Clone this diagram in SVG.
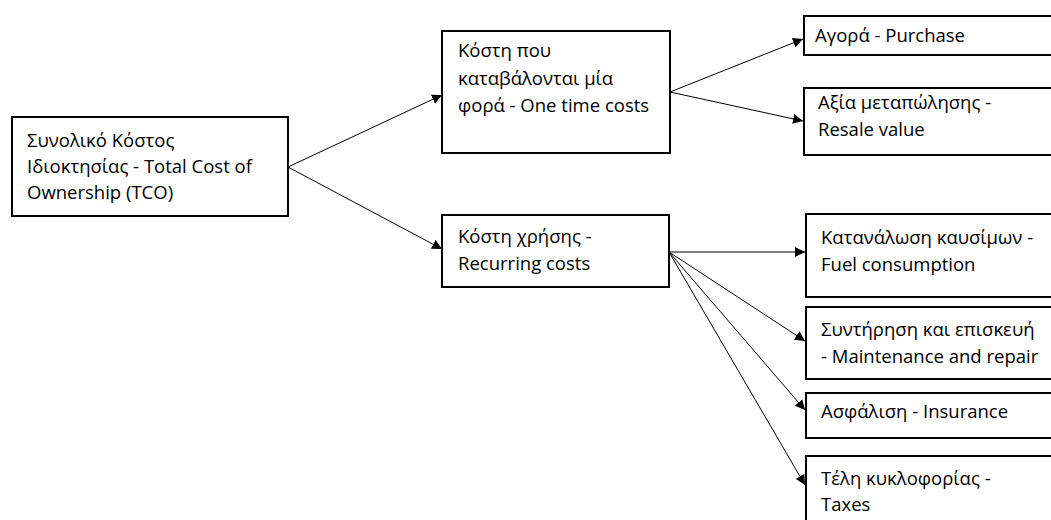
<svg xmlns="http://www.w3.org/2000/svg" width="1051" height="520" viewBox="0 0 1051 520">
  <style>
    .box { fill: #ffffff; stroke: #000000; stroke-width: 2; }
    .lbl { font-family: "Open Sans", "Noto Sans", "DejaVu Sans", sans-serif; font-size: 18.5px; fill: #000000; }
    .edge { fill: none; stroke: #000000; stroke-width: 1; marker-end: url(#arrow); }
  </style>
  <defs>
    <marker id="arrow" viewBox="0 0 10 10" refX="10" refY="5" markerWidth="10" markerHeight="10" markerUnits="userSpaceOnUse" orient="auto">
      <path d="M0,0 L10,5 L0,10 Z" fill="#000000"/>
    </marker>
  </defs>

  <rect width="1051" height="520" fill="#ffffff"/>

  <!-- connectors -->
  <g id="connectors">
    <line class="edge" x1="288" y1="167" x2="442" y2="95"/>
    <line class="edge" x1="288" y1="167" x2="442" y2="249"/>
    <line class="edge" x1="670" y1="92" x2="803" y2="39"/>
    <line class="edge" x1="670" y1="92" x2="803" y2="121"/>
    <line class="edge" x1="669" y1="252" x2="805" y2="252"/>
    <line class="edge" x1="669" y1="252" x2="805" y2="341"/>
    <line class="edge" x1="669" y1="252" x2="805" y2="410"/>
    <line class="edge" x1="669" y1="252" x2="805" y2="485"/>
  </g>

  <g id="tco">
    <rect class="box" x="12" y="117" width="276" height="99"/>
    <text class="lbl" x="27" y="147">Συνολικό Κόστος</text>
    <text class="lbl" x="27" y="173">Ιδιοκτησίας - Total Cost of</text>
    <text class="lbl" x="27" y="199">Ownership (TCO)</text>
  </g>

  <g id="one-time">
    <rect class="box" x="442" y="31" width="228" height="122"/>
    <text class="lbl" x="458" y="57">Κόστη που</text>
    <text class="lbl" x="458" y="85">καταβάλονται μία</text>
    <text class="lbl" x="458" y="112">φορά - One time costs</text>
  </g>

  <g id="recurring">
    <rect class="box" x="442" y="215" width="227" height="72"/>
    <text class="lbl" x="458" y="243">Κόστη χρήσης -</text>
    <text class="lbl" x="458" y="270">Recurring costs</text>
  </g>

  <g id="purchase">
    <rect class="box" x="804" y="16" width="260" height="39"/>
    <text class="lbl" x="815" y="42">Αγορά - Purchase</text>
  </g>

  <g id="resale">
    <rect class="box" x="804" y="88" width="260" height="67"/>
    <text class="lbl" x="818" y="109">Αξία μεταπώλησης -</text>
    <text class="lbl" x="818" y="136">Resale value</text>
  </g>

  <g id="fuel">
    <rect class="box" x="806" y="214" width="260" height="83"/>
    <text class="lbl" x="821" y="244">Κατανάλωση καυσίμων -</text>
    <text class="lbl" x="821" y="271">Fuel consumption</text>
  </g>

  <g id="maintenance">
    <rect class="box" x="806" y="307" width="260" height="72"/>
    <text class="lbl" x="821" y="336">Συντήρηση και επισκευή</text>
    <text class="lbl" x="821" y="363">- Maintenance and repair</text>
  </g>

  <g id="insurance">
    <rect class="box" x="806" y="393" width="260" height="45"/>
    <text class="lbl" x="821" y="418">Ασφάλιση - Insurance</text>
  </g>

  <g id="taxes">
    <rect class="box" x="806" y="456" width="260" height="80"/>
    <text class="lbl" x="821" y="485">Τέλη κυκλοφορίας -</text>
    <text class="lbl" x="821" y="511">Taxes</text>
  </g>
</svg>
